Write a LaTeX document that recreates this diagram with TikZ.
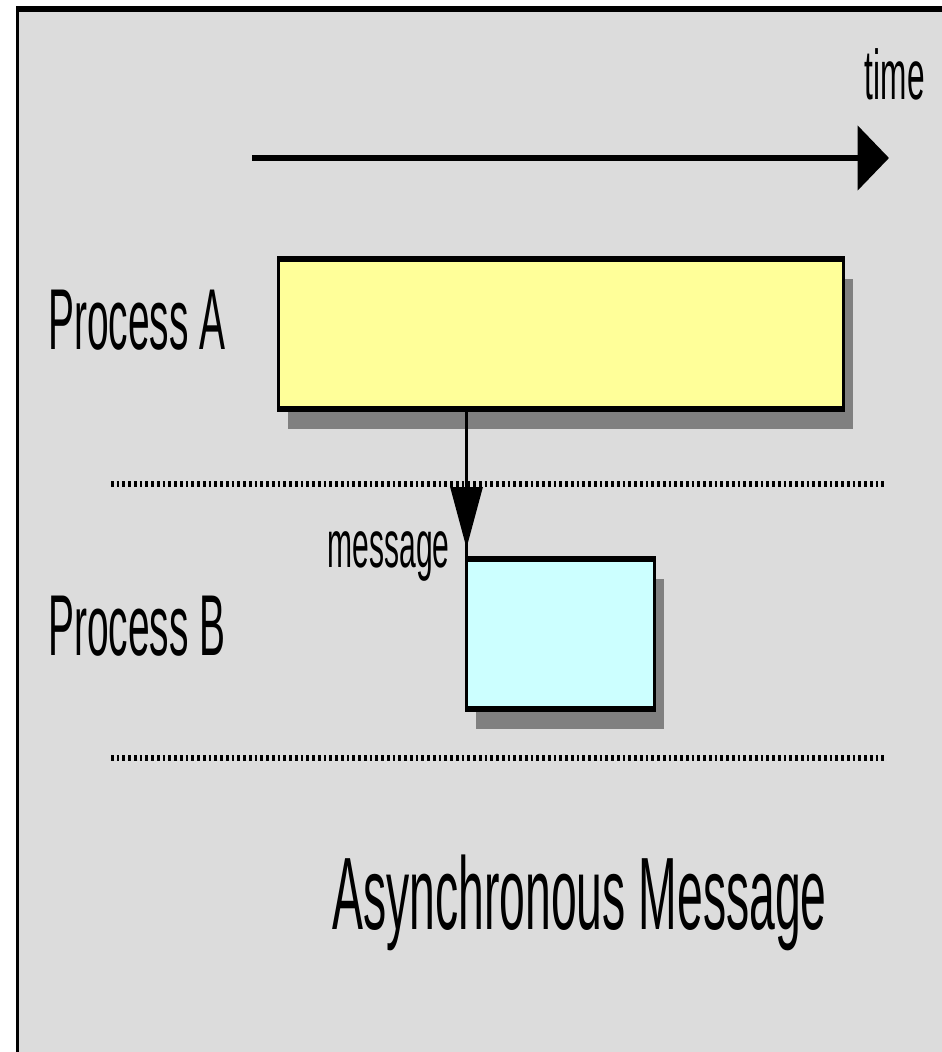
\documentclass[tikz,border=0pt]{standalone}
\usepackage{fontspec}
\newfontfamily\narrowsf[FakeStretch=0.9]{Liberation Sans}
\usetikzlibrary{arrows.meta,shadows,decorations.markings}

\definecolor{panelgray}{HTML}{DCDCDC}
\definecolor{procyellow}{HTML}{FFFF99}
\definecolor{proccyan}{HTML}{CCFFFF}
\definecolor{shadegray}{HTML}{808080}

\tikzset{
  lbl/.style={inner sep=0pt,font=\narrowsf},
  procbox/.style={draw=black,line width=1.7pt,outer sep=0pt,
    drop shadow={shadow xshift=0.19cm,shadow yshift=-0.2cm,fill=shadegray,opacity=1}},
  sepline/.style={line width=1.7pt,dash pattern=on 0.055cm off 0.06cm},
  tip/.style={-{Triangle[length=0.63cm,width=0.64cm]}}
}

\begin{document}
\begin{tikzpicture}[x=0.02cm,y=0.02cm]

\useasboundingbox (0,0) rectangle (942,-1052);

% drawn at half height, then stretched twice in y
\begin{scope}[transform canvas={yscale=2}]

\fill[panelgray] (17.5,-4.5) rectangle (942,-526);
\draw[line width=1.7pt] (17.5,-526) -- (17.5,-4.5) -- (942,-4.5);

\coordinate (t0) at (252,-79);
\coordinate (t1) at (889,-79);
\draw[tip,line width=1.5pt] (t0) -- (t1);
\node[lbl,anchor=base east,font=\narrowsf\fontsize{20}{24}\selectfont] (time) at (925,-49.5) {time};

\node[procbox,fill=procyellow,minimum width=11.31cm,minimum height=1.5cm] (procA) at (560.75,-167) {};
\node[procbox,fill=proccyan,minimum width=3.76cm,minimum height=1.495cm] (procB) at (560.5,-316.9) {};

\node[lbl,anchor=base west,font=\narrowsf\fontsize{24.6}{30}\selectfont] (labA) at (48,-174.5) {Process A};
\node[lbl,anchor=base west,font=\narrowsf\fontsize{24.6}{30}\selectfont] (labB) at (48,-327.5) {Process B};

\draw[sepline] (111,-242) -- (886,-242);
\draw[sepline] (111,-379) -- (886,-379);

\draw[line width=1.7pt,postaction={decorate},
  decoration={markings,mark=at position -0.11cm with {\arrow{Triangle[length=0.61cm,width=0.64cm]}}}]
  (procA.south -| procB.north west) -- (procB.north west);
\node[lbl,anchor=base east,font=\narrowsf\fontsize{19}{23}\selectfont] (msg) at (450,-283.5) {message};

\node[lbl,anchor=base west,font=\narrowsf\fontsize{29.3}{35}\selectfont] (title) at (332,-464.5) {Asynchronous Message};

\end{scope}

\end{tikzpicture}
\end{document}
